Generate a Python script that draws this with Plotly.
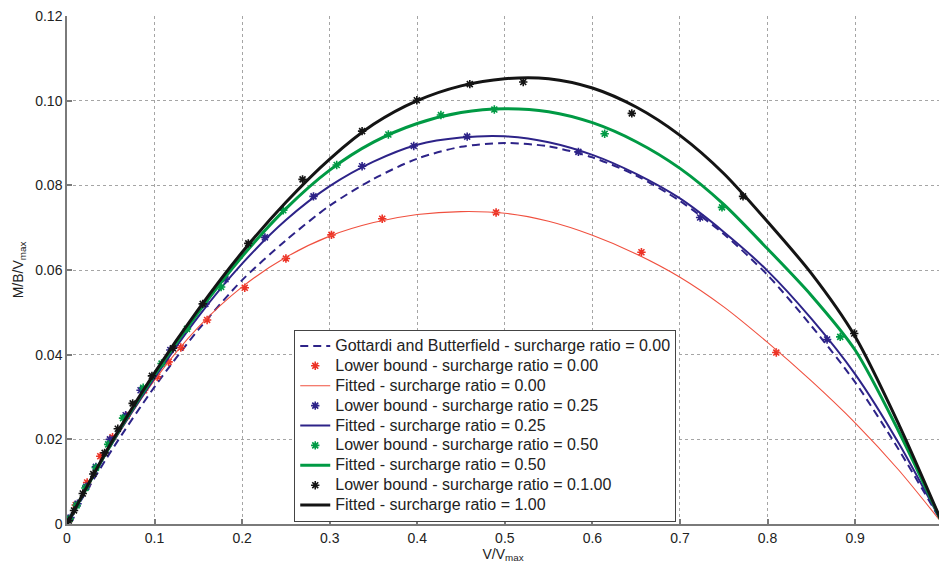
import plotly.graph_objects as go

# ---- data ----
x_curve = [0.0, 0.05, 0.10, 0.15, 0.20, 0.25, 0.30, 0.35, 0.40, 0.45, 0.50,
           0.55, 0.60, 0.65, 0.70, 0.75, 0.80, 0.85, 0.90, 0.95, 1.0]

gb_000 = [0.0, 0.0171, 0.0324, 0.0459, 0.0576, 0.0670, 0.0752, 0.0815, 0.0863, 0.0891, 0.0900,
          0.0892, 0.0866, 0.0823, 0.0763, 0.0685, 0.0588, 0.0468, 0.0335, 0.0175, 0.0]
fit_000 = [0.0, 0.0183, 0.0340, 0.0465, 0.0560, 0.0630, 0.0680, 0.0712, 0.0731, 0.0738, 0.0734,
           0.0715, 0.0682, 0.0638, 0.0583, 0.0513, 0.0429, 0.0338, 0.0239, 0.0127, 0.0]
fit_025 = [0.0, 0.0185, 0.0345, 0.0490, 0.0615, 0.0718, 0.0798, 0.0856, 0.0896, 0.0913, 0.0916,
           0.0902, 0.0872, 0.0827, 0.0769, 0.0690, 0.0598, 0.0485, 0.0354, 0.0190, 0.0]
fit_050 = [0.0, 0.0188, 0.0352, 0.0500, 0.0632, 0.0745, 0.0836, 0.0902, 0.0946, 0.0972, 0.0981,
           0.0974, 0.0948, 0.0903, 0.0840, 0.0755, 0.0650, 0.0540, 0.0411, 0.0218, 0.0]
fit_100 = [0.0, 0.0190, 0.0357, 0.0507, 0.0642, 0.0760, 0.0862, 0.0944, 0.1000, 0.1035, 0.1052,
           0.1052, 0.1030, 0.0985, 0.0918, 0.0828, 0.0714, 0.0592, 0.0443, 0.0235, 0.0]

lb_000_x = [0.003, 0.010, 0.023, 0.038, 0.052, 0.068, 0.088, 0.103, 0.116, 0.130, 0.160,
            0.203, 0.250, 0.302, 0.360, 0.490, 0.656, 0.810]
lb_000_y = [0.0012, 0.0045, 0.0098, 0.0160, 0.0205, 0.0255, 0.0316, 0.0348, 0.0383, 0.0417, 0.0482,
            0.0558, 0.0627, 0.0683, 0.0721, 0.0736, 0.0642, 0.0405]

lb_025_x = [0.004, 0.012, 0.022, 0.033, 0.049, 0.067, 0.084, 0.118, 0.158, 0.181, 0.226,
            0.2815, 0.337, 0.396, 0.457, 0.584, 0.723, 0.868]
lb_025_y = [0.0015, 0.0048, 0.0088, 0.0135, 0.0200, 0.0257, 0.0316, 0.0411, 0.0520, 0.0578, 0.0677,
            0.0774, 0.0845, 0.0893, 0.0915, 0.0879, 0.0724, 0.0436]

lb_050_x = [0.003, 0.011, 0.021, 0.033, 0.047, 0.064, 0.087, 0.108, 0.137, 0.176, 0.247,
            0.308, 0.367, 0.427, 0.488, 0.614, 0.748, 0.883]
lb_050_y = [0.0012, 0.0044, 0.0085, 0.0133, 0.0188, 0.0250, 0.0322, 0.0379, 0.0461, 0.0560, 0.0741,
            0.0848, 0.0920, 0.0966, 0.0979, 0.0922, 0.0748, 0.0442]

lb_100_x = [0.002, 0.008, 0.018, 0.030, 0.043, 0.058, 0.075, 0.097, 0.121, 0.155, 0.207,
            0.269, 0.337, 0.3995, 0.460, 0.521, 0.645, 0.772, 0.899]
lb_100_y = [0.0008, 0.0032, 0.0072, 0.0118, 0.0168, 0.0225, 0.0285, 0.0350, 0.0415, 0.0520, 0.0663,
            0.0814, 0.0928, 0.1001, 0.1039, 0.1044, 0.0970, 0.0774, 0.0450]

x_ticks = [0, 0.1, 0.2, 0.3, 0.4, 0.5, 0.6, 0.7, 0.8, 0.9]
x_tick_text = ["0", "0.1", "0.2", "0.3", "0.4", "0.5", "0.6", "0.7", "0.8", "0.9"]
y_ticks = [0, 0.02, 0.04, 0.06, 0.08, 0.10, 0.12]
y_tick_text = ["0", "0.02", "0.04", "0.06", "0.08", "0.10", "0.12"]

names = [
    "Gottardi and Butterfield - surcharge ratio = 0.00",
    "Lower bound - surcharge ratio = 0.00",
    "Fitted - surcharge ratio = 0.00",
    "Lower bound - surcharge ratio = 0.25",
    "Fitted - surcharge ratio = 0.25",
    "Lower bound - surcharge ratio = 0.50",
    "Fitted - surcharge ratio = 0.50",
    "Lower bound - surcharge ratio = 0.1.00",
    "Fitted - surcharge ratio = 1.00",
]

C_NAVY = "#2d2388"
C_RED = "#ec3326"
C_RED_L = "#f0503f"
C_GREEN = "#009a44"
C_BLACK = "#141414"


def lab(t):
    return '<span style="font-size:16px">' + t + '</span>'


def pts(x, y, color, name):
    return go.Scatter(x=x, y=y, mode="markers", name=lab(name),
                      marker=dict(symbol="asterisk-open", size=7, color=color,
                                  line=dict(color=color, width=1.6)))


def crv(y, color, width, name, dash="solid"):
    return go.Scatter(x=x_curve, y=y, mode="lines", name=lab(name),
                      line=dict(color=color, width=width, dash=dash, shape="spline", smoothing=0.8))


fig = go.Figure()
fig.add_trace(crv(gb_000, C_NAVY, 2, names[0], dash="8px,5px"))
fig.add_trace(pts(lb_000_x, lb_000_y, C_RED, names[1]))
fig.add_trace(crv(fit_000, C_RED_L, 1.1, names[2]))
fig.add_trace(pts(lb_025_x, lb_025_y, C_NAVY, names[3]))
fig.add_trace(crv(fit_025, C_NAVY, 2, names[4]))
fig.add_trace(pts(lb_050_x, lb_050_y, C_GREEN, names[5]))
fig.add_trace(crv(fit_050, C_GREEN, 3, names[6]))
fig.add_trace(pts(lb_100_x, lb_100_y, C_BLACK, names[7]))
fig.add_trace(crv(fit_100, C_BLACK, 3, names[8]))

axis_common = dict(
    showgrid=True, gridcolor="#a5a5a5", gridwidth=1, griddash="dot",
    showline=True, linecolor="#7a7a7a", linewidth=1.5,
    ticks="inside", ticklen=5, tickcolor="#7a7a7a", tickwidth=1.5,
    zeroline=False, mirror=False, automargin=False,
    tickfont=dict(family="Liberation Sans, Arial, sans-serif", size=14, color="#222"),
)

fig.update_layout(
    width=939, height=567,
    margin=dict(l=67, r=0, t=16, b=43),
    paper_bgcolor="white", plot_bgcolor="white",
    font=dict(family="Liberation Sans, Arial, sans-serif", size=14, color="#222"),
    xaxis=dict(range=[0, 0.9958], tickvals=x_ticks, ticktext=x_tick_text,
               title=dict(text="V/V<sub>max</sub>", standoff=1, font=dict(size=14)),
               **axis_common),
    yaxis=dict(range=[0, 0.12], tickvals=y_ticks, ticktext=y_tick_text,
               title=dict(text="M/B/V<sub>max</sub>", standoff=8, font=dict(size=14)),
               **axis_common),
    legend=dict(x=0.2606, y=0.382, xanchor="left", yanchor="top",
                bgcolor="white", bordercolor="#444", borderwidth=1,
                font=dict(size=13, color="#222"), tracegroupgap=0,
                itemwidth=30),
    showlegend=True,
)

fig.write_html("out.html", config={"displayModeBar": False},
               post_script="document.body.style.margin='0px';document.body.style.overflow='hidden';")
